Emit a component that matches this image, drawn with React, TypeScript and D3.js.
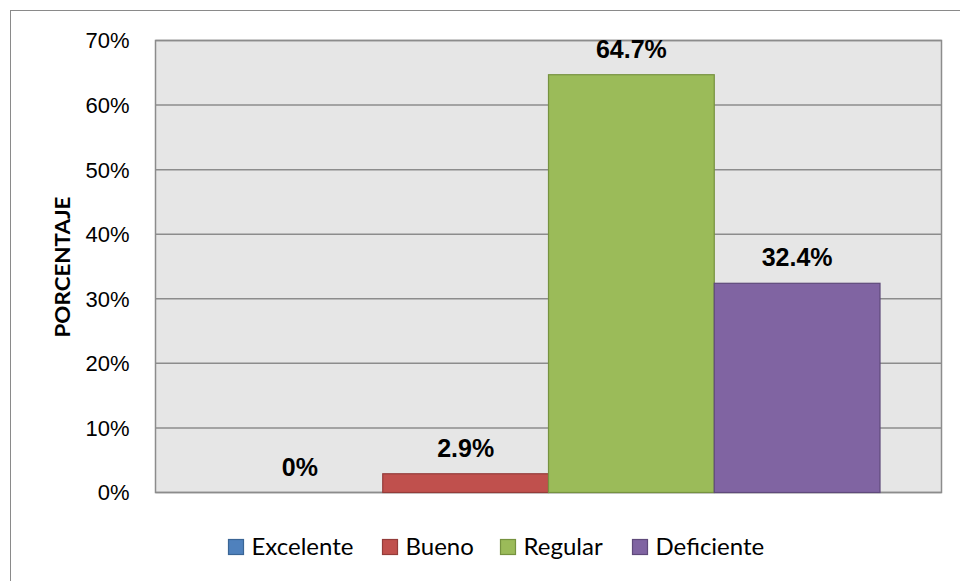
import React from "react";
import * as d3 from "d3";

// Series shown as one clustered group of bars
const categories = ["Excelente", "Bueno", "Regular", "Deficiente"];
const values = [0, 2.9, 64.7, 32.4]; // percent
const valueLabels = ["0%", "2.9%", "64.7%", "32.4%"];
const yTicks = [0, 10, 20, 30, 40, 50, 60, 70];
const fills = ["#4f81bd", "#c0504d", "#9bbb59", "#8064a2"];
const strokes = ["#3a6595", "#943c3a", "#76923f", "#5f4a7b"];

const W = 960;
const H = 581;
const plot = { left: 155.5, right: 941.5, top: 40.5, bottom: 492.5 };
const legendX = [228, 382, 500, 632];

export default function App() {
  const x = d3
    .scaleBand<string>()
    .domain(categories)
    .range([plot.left, plot.right])
    .paddingInner(0)
    .paddingOuter(0.371);
  const y = d3.scaleLinear().domain([0, 70]).range([plot.bottom, plot.top]);

  return (
    <svg
      width={W}
      height={H}
      style={{ position: "absolute", left: 0, top: 0, background: "#fff" }}
    >
      {/* chart frame */}
      <rect x={10.5} y={10.5} width={W + 20} height={H + 20} fill="#fff" stroke="#8a8a8a" strokeWidth={1} />

      {/* plot area */}
      <rect
        x={plot.left}
        y={plot.top}
        width={plot.right - plot.left}
        height={plot.bottom - plot.top}
        fill="#e6e6e6"
        stroke="#8c8c8c"
        strokeWidth={1.5}
      />

      {/* horizontal gridlines */}
      {yTicks.map((t) => (
        <line
          key={"g" + t}
          x1={plot.left}
          x2={plot.right}
          y1={y(t)}
          y2={y(t)}
          stroke="#8c8c8c"
          strokeWidth={1.5}
        />
      ))}

      {/* y tick labels */}
      {yTicks.map((t) => (
        <text
          key={"t" + t}
          x={129.5}
          y={y(t)}
          dy="0.36em"
          textAnchor="end"
          fontFamily="'Liberation Sans', Arial, sans-serif"
          fontSize={22}
          fill="#000"
        >
          {d3.format(".0%")(t / 100)}
        </text>
      ))}

      {/* y axis title */}
      <text
        transform={`translate(69.5, 267) rotate(-90)`}
        textAnchor="middle"
        fontFamily="Lato, 'Open Sans', sans-serif"
        fontWeight="bold"
        fontSize={20}
        textLength={141}
        lengthAdjust="spacingAndGlyphs"
        fill="#000"
      >
        PORCENTAJE
      </text>

      {/* bars */}
      {categories.map((c, i) =>
        values[i] > 0 ? (
          <rect
            key={"b" + c}
            x={x(c)!}
            y={y(values[i])}
            width={x.bandwidth()}
            height={y(0) - y(values[i])}
            fill={fills[i]}
            stroke={strokes[i]}
            strokeWidth={1.2}
          />
        ) : null
      )}

      {/* value labels */}
      {categories.map((c, i) => (
        <text
          key={"v" + c}
          x={x(c)! + x.bandwidth() / 2}
          y={y(values[i]) - 17}
          textAnchor="middle"
          fontFamily="'Liberation Sans', Arial, sans-serif"
          fontWeight="bold"
          fontSize={25}
          fill="#000"
        >
          {valueLabels[i]}
        </text>
      ))}

      {/* legend */}
      {categories.map((c, i) => (
        <g key={"l" + c} transform={`translate(${legendX[i]}, 539)`}>
          <rect x={0.5} y={0.5} width={15} height={15} fill={fills[i]} stroke={strokes[i]} strokeWidth={1.2} />
          <text
            x={23.5}
            y={16}
            fontFamily="Lato, 'Open Sans', sans-serif"
            fontSize={24}
            fill="#000"
          >
            {c}
          </text>
        </g>
      ))}
    </svg>
  );
}
